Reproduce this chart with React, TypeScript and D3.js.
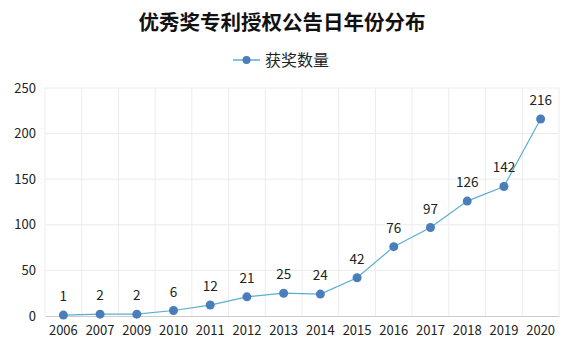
import React, { useEffect, useRef } from "react";
import { select, scaleBand, scaleLinear, axisBottom, axisLeft, line } from "d3";

const years = ["2006", "2007", "2009", "2010", "2011", "2012", "2013", "2014", "2015", "2016", "2017", "2018", "2019", "2020"];
const counts = [1, 2, 2, 6, 12, 21, 25, 24, 42, 76, 97, 126, 142, 216];
const yTicks = [0, 50, 100, 150, 200, 250];

const title = "优秀奖专利授权公告日年份分布";
const seriesName = "获奖数量";

const width = 581;
const height = 352;
const margin = { top: 88, right: 22, bottom: 36, left: 45 };
const font = "'Noto Sans CJK SC', 'Open Sans', sans-serif";

const App = () => {
  const svgRef = useRef<SVGSVGElement>(null);

  useEffect(() => {
    const svg = select(svgRef.current);
    svg.selectAll("*").remove();

    const x = scaleBand()
      .domain(years)
      .range([margin.left, width - margin.right]);
    const y = scaleLinear()
      .domain([0, 250])
      .range([height - margin.bottom, margin.top]);

    // title
    svg
      .append("text")
      .attr("x", 282)
      .attr("y", 30)
      .attr("text-anchor", "middle")
      .style("font-family", font)
      .style("font-size", "20.5px")
      .style("font-weight", "bold")
      .attr("fill", "#111")
      .text(title);

    // legend
    const lg = svg.append("g").attr("transform", "translate(233,60)");
    lg.append("line").attr("x1", 0).attr("x2", 27).attr("stroke", "#5aaed0").attr("stroke-width", 1.5);
    lg.append("circle").attr("cx", 13.5).attr("r", 4).attr("fill", "#4a7ebb");
    lg.append("text")
      .attr("x", 32)
      .attr("y", 6)
      .style("font-family", font)
      .style("font-size", "16px")
      .attr("fill", "#222")
      .text(seriesName);

    // grid
    const grid = svg.append("g");
    grid
      .selectAll(".hgrid")
      .data(yTicks.slice(1))
      .enter()
      .append("line")
      .attr("x1", margin.left)
      .attr("x2", width - margin.right)
      .attr("y1", (d) => y(d))
      .attr("y2", (d) => y(d))
      .attr("stroke", "#ececec");
    grid
      .selectAll(".vgrid")
      .data(years.concat(["end"]))
      .enter()
      .append("line")
      .attr("x1", (d, i) => margin.left + i * x.step())
      .attr("x2", (d, i) => margin.left + i * x.step())
      .attr("y1", margin.top)
      .attr("y2", height - margin.bottom)
      .attr("stroke", "#ececec");

    // axes
    svg
      .append("g")
      .attr("transform", `translate(0,${height - margin.bottom})`)
      .call(axisBottom(x).tickSize(0).tickPadding(10))
      .call((g) => g.select(".domain").attr("stroke", "#ccc"))
      .call((g) =>
        g.selectAll("text").style("font-family", font).style("font-size", "13px").attr("fill", "#222"),
      );

    svg
      .append("g")
      .attr("transform", `translate(${margin.left},0)`)
      .call(axisLeft(y).tickValues(yTicks).tickSize(0).tickPadding(9))
      .call((g) => g.select(".domain").remove())
      .call((g) =>
        g.selectAll("text").style("font-family", font).style("font-size", "13px").attr("fill", "#222"),
      );

    const cx = (d: string) => (x(d) as number) + x.bandwidth() / 2;

    const path = line<number>()
      .x((d, i) => cx(years[i]))
      .y((d) => y(d));

    svg
      .append("path")
      .datum(counts)
      .attr("d", path)
      .attr("fill", "none")
      .attr("stroke", "#5aaed0")
      .attr("stroke-width", 1.2);

    svg
      .selectAll(".pt")
      .data(counts)
      .enter()
      .append("circle")
      .attr("cx", (d, i) => cx(years[i]))
      .attr("cy", (d) => y(d))
      .attr("r", 4.5)
      .attr("fill", "#4a7ebb");

    svg
      .selectAll(".lbl")
      .data(counts)
      .enter()
      .append("text")
      .attr("x", (d, i) => cx(years[i]))
      .attr("y", (d) => y(d) - 14)
      .attr("text-anchor", "middle")
      .style("font-family", font)
      .style("font-size", "13.5px")
      .attr("fill", "#222")
      .text((d) => d);
  }, []);

  return (
    <svg
      ref={svgRef}
      width={width}
      height={height}
      style={{ position: "absolute", left: 0, top: 0, background: "#fff" }}
    />
  );
};

export default App;
